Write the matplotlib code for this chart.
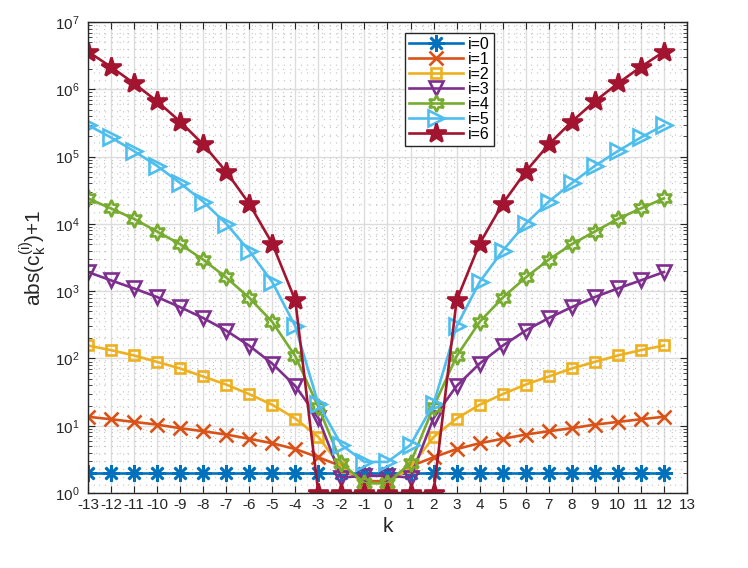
import matplotlib
matplotlib.use('Agg')
import matplotlib.pyplot as plt
from matplotlib.ticker import MultipleLocator, LogLocator, NullFormatter

plt.rcParams['font.family'] = ['Liberation Sans', 'DejaVu Sans']
plt.rcParams['mathtext.fontset'] = 'custom'
plt.rcParams['mathtext.rm'] = 'Liberation Sans'
plt.rcParams['mathtext.it'] = 'Liberation Sans'
plt.rcParams['axes.unicode_minus'] = False

## data, k = -13 .. 12
k = list(range(-13, 13))
i0 = [2] * 26
i1 = [13.6, 12.5, 11.4, 10.4, 9.2, 8.3, 7.4, 6.4, 5.5, 4.5, 3.4, 2.5, 1.5,
      1.5, 2.5, 3.4, 4.5, 5.5, 6.4, 7.4, 8.3, 9.2, 10.4, 11.4, 12.5, 13.6]
i2 = [156, 133, 111, 89, 71, 54, 41, 29.5, 20.5, 12.8, 6.8, 2.4, 1.4,
      1.4, 2.4, 6.8, 12.8, 20.5, 29.5, 41, 54, 71, 89, 111, 133, 156]
i3 = [1930, 1450, 1100, 820, 580, 400, 260, 155, 84, 39, 13, 1.7, 1.8,
      1.8, 1.7, 13, 39, 84, 155, 260, 400, 580, 820, 1100, 1450, 1930]
i4 = [24000, 17000, 11900, 7700, 5000, 2950, 1600, 800, 350, 108, 19, 2.8, 1.4,
      1.4, 2.8, 19, 108, 350, 800, 1600, 2950, 5000, 7700, 11900, 17000, 24000]
i5 = [295000, 193000, 121000, 73000, 40500, 21500, 10100, 4000, 1370, 300, 21, 5.2, 2.9,
      2.9, 5.2, 21, 300, 1370, 4000, 10100, 21500, 40500, 73000, 121000, 193000, 295000]
i6 = [3650000, 2160000, 1230000, 665000, 333000, 152000, 60000, 20000, 5100, 730,
      1, 1, 1, 1, 1, 1,
      730, 5100, 20000, 60000, 152000, 333000, 665000, 1230000, 2160000, 3650000]

series = [i0, i1, i2, i3, i4, i5, i6]
labels = ['i=0', 'i=1', 'i=2', 'i=3', 'i=4', 'i=5', 'i=6']
colors = ['#0072BD', '#D95319', '#EDB120', '#7E2F8E', '#77AC30', '#4DBEEE', '#A2142F']
markers = [(8, 2, 0), 'x', 's', 'v', (6, 1, 0), '>', '*']
msizes = [12, 10, 7, 10, 12, 11, 15]
filled = [False, False, False, False, False, False, True]

fig = plt.figure(figsize=(7.48, 5.68), dpi=100)
ax = fig.add_axes([0.1176, 0.132, 0.8008, 0.829])

for y, lab, c, m, ms, f in zip(series, labels, colors, markers, msizes, filled):
    ax.plot(k, y, color=c, marker=m, markersize=ms, linewidth=1.9,
            markeredgewidth=1.9, markerfacecolor=c if f else 'none', label=lab)

ax.set_yscale('log')
ax.set_xlim(-13, 13)
ax.set_ylim(1, 1e7)
ax.xaxis.set_major_locator(MultipleLocator(1))
ax.xaxis.set_minor_locator(MultipleLocator(0.25))
ax.yaxis.set_major_locator(LogLocator(base=10, numticks=20))
ax.yaxis.set_minor_locator(LogLocator(base=10, subs=range(2, 10), numticks=100))
ax.yaxis.set_minor_formatter(NullFormatter())

ax.grid(True, which='major', color='#dcdcdc', linewidth=1.0, linestyle='-')
ax.grid(True, which='minor', color='#c4c4c4', linewidth=0.8, linestyle=(0, (1, 6)))
ax.set_axisbelow(True)

ax.tick_params(which='both', direction='in', top=True, right=True, labelsize=11,
               color='#262626', labelcolor='#262626')
ax.tick_params(which='major', length=5)
ax.tick_params(which='minor', length=3)
ax.tick_params(axis='x', which='minor', length=0)
ax.tick_params(axis='y', which='major', pad=6)
for s in ax.spines.values():
    s.set_color('#262626')
    s.set_linewidth(1.0)

ax.set_xlabel('k', fontsize=15, color='#262626')
ax.set_ylabel(r'abs(c$_k^{(i)}$)+1', fontsize=15, color='#262626')

leg = ax.legend(loc='upper left', bbox_to_anchor=(0.529, 0.977), borderaxespad=0,
                fontsize=11.5, handlelength=3.4, labelspacing=0.0, borderpad=0.25,
                handletextpad=0.3, fancybox=False, framealpha=1)
leg.get_frame().set_edgecolor('#262626')
leg.get_frame().set_linewidth(1.0)

fig.savefig('out.png', dpi=100)
